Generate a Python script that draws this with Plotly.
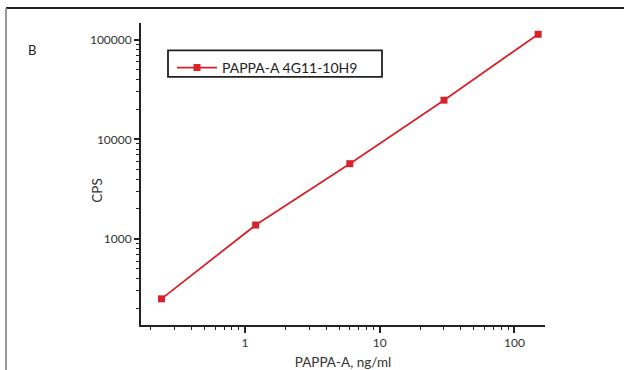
import plotly.graph_objects as go

# Data
conc_ng_ml = [0.24, 1.2, 6.0, 30.0, 150.0]
cps = [250, 1380, 5700, 24800, 114000]
series_name = "PAPPA-A 4G11-10H9"

x_tickvals = [1, 10, 100]
x_ticktext = ["1", "10", "100"]
y_tickvals = [1000, 10000, 100000]
y_ticktext = ["1000", "10000", "100000"]

RED = "#d6232b"
FONT = "Lato, 'Open Sans', Arial, sans-serif"

W, H = 624, 370
L, R, T, B = 141, 545, 23, 325.5

def px(x):
    return (x - L) / (R - L)

def py(y):
    return (B - y) / (B - T)

x_minor = [m * 10 ** e for e in range(-1, 3) for m in range(2, 10)]
y_minor = [m * 10 ** e for e in range(2, 6) for m in range(2, 10)]

fig = go.Figure()
fig.add_trace(go.Scatter(
    x=conc_ng_ml, y=cps, name=series_name, mode="lines+markers",
    line=dict(color=RED, width=1.8),
    marker=dict(symbol="square", size=7, color=RED),
))

fig.update_layout(
    width=W, height=H,
    margin=dict(l=L, r=W - R, t=T, b=H - B, pad=0, autoexpand=False),
    paper_bgcolor="white", plot_bgcolor="white",
    font=dict(family=FONT, color="#333333", size=12),
    showlegend=True,
    legend=dict(
        x=px(172), y=py(52), xanchor="left", yanchor="top",
        bgcolor="rgba(0,0,0,0)", borderwidth=0,
        font=dict(size=14, color="#222222"),
        itemwidth=40,
    ),
    xaxis=dict(
        type="log", range=[-0.772, 2.227], automargin=False,
        showline=True, linecolor="#222222", linewidth=1.8,
        showgrid=False, zeroline=False,
        tickmode="array", tickvals=x_tickvals, ticktext=x_ticktext,
        ticks="outside", ticklen=6, tickwidth=1.8, tickcolor="#222222",
        tickfont=dict(size=12, color="#333333"),
        minor=dict(tickmode="array", tickvals=x_minor, ticks="outside",
                   ticklen=3.5, tickwidth=1, tickcolor="#222222", showgrid=False),
        title=dict(text="PAPPA-A, ng/ml", font=dict(size=13.5, color="#333333"), standoff=10),
    ),
    yaxis=dict(
        type="log", range=[2.135, 5.17], automargin=False,
        showline=True, linecolor="#222222", linewidth=1.8,
        showgrid=False, zeroline=False,
        tickmode="array", tickvals=y_tickvals, ticktext=y_ticktext,
        ticks="outside", ticklen=5, tickwidth=1.8, tickcolor="#222222",
        tickfont=dict(size=12, color="#333333"),
        minor=dict(tickmode="array", tickvals=y_minor, ticks="outside",
                   ticklen=3.5, tickwidth=1, tickcolor="#222222", showgrid=False),
    ),
    shapes=[
        # outer frame (top and left edges)
        dict(type="line", xref="paper", yref="paper",
             x0=px(6), x1=px(626), y0=py(8), y1=py(8),
             line=dict(color="#222222", width=2)),
        dict(type="line", xref="paper", yref="paper",
             x0=px(6), x1=px(6), y0=py(8), y1=py(372),
             line=dict(color="#999999", width=2)),
        # legend box
        dict(type="rect", xref="paper", yref="paper",
             x0=px(168), x1=px(382), y0=py(50.5), y1=py(77),
             line=dict(color="#222222", width=1.8), fillcolor="rgba(0,0,0,0)"),
    ],
    annotations=[
        dict(text="B", xref="paper", yref="paper", x=px(32), y=py(50),
             xanchor="center", yanchor="middle", showarrow=False,
             font=dict(size=13, color="#222222")),
        dict(text="CPS", xref="paper", yref="paper", x=px(97), y=py(191),
             xanchor="center", yanchor="middle", showarrow=False, textangle=-90,
             font=dict(size=13.5, color="#333333")),
    ],
)

fig.write_html("out.html", config={"displayModeBar": False},
               post_script="document.body.style.margin='0';")
